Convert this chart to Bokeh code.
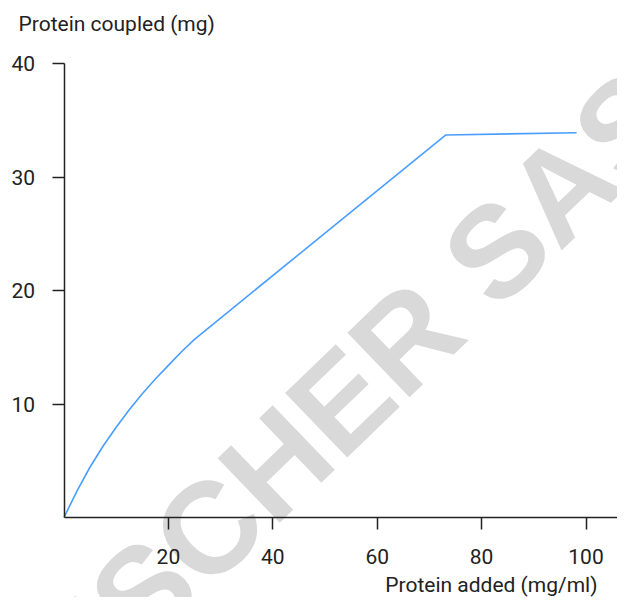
import math
from bokeh.plotting import figure
from bokeh.models import Range1d, Label, FixedTicker, LinearAxis
from bokeh.embed import file_html
from bokeh.resources import INLINE

# Data
protein_added = [0, 2.5, 5, 7.5, 10, 12.5, 15, 17.5, 20, 22.5, 25, 73.1, 98.2]
protein_coupled = [0, 2.35, 4.45, 6.3, 7.95, 9.5, 10.9, 12.2, 13.4, 14.6, 15.7, 33.7, 33.9]
x_ticks = [20, 40, 60, 80, 100]
y_ticks = [10, 20, 30, 40]

FONT = "Roboto"
TXT = "#222222"
W, H = 617, 597

# pixel scale of the reference (px per unit) and origin position
X0, XS = 63.5, 5.22
Y0, YS = 517.0, 11.35
x_start, x_end = -X0 / XS, (W - X0) / XS
y_start, y_end = -(H - Y0) / YS, Y0 / YS

p = figure(width=W, height=H, output_backend="svg", toolbar_location=None,
           x_range=Range1d(x_start, x_end), y_range=Range1d(y_start, y_end),
           x_axis_location=None, y_axis_location=None,
           min_border_left=0, min_border_right=0, min_border_top=0, min_border_bottom=0)
p.outline_line_color = None
p.xgrid.visible = False
p.ygrid.visible = False
p.background_fill_color = "white"
p.border_fill_color = "white"

# watermark
wm = Label(x=343, y=H - 398, x_units="screen", y_units="screen", text="FISCHER SAS",
           angle=math.radians(44), text_align="center", text_baseline="middle",
           text_font="Liberation Sans", text_font_style="bold", text_font_size="130px",
           text_color="#d9d9d9", level="underlay")
p.add_layout(wm)

p.line(protein_added, protein_coupled, line_color="#4a9eff", line_width=1.6)

xaxis = LinearAxis(fixed_location=0, bounds=(0, x_end), ticker=FixedTicker(ticks=x_ticks))
yaxis = LinearAxis(fixed_location=0, bounds=(0, 40), ticker=FixedTicker(ticks=y_ticks))
for ax in (xaxis, yaxis):
    ax.axis_line_color = TXT
    ax.axis_line_width = 1.5
    ax.major_tick_line_color = TXT
    ax.major_tick_line_width = 1.5
    ax.major_tick_out = 12
    ax.major_tick_in = 0
    ax.minor_tick_line_color = None
    ax.major_label_text_font = FONT
    ax.major_label_text_font_size = "21px"
    ax.major_label_text_color = TXT
xaxis.major_label_standoff = 19
yaxis.major_label_standoff = 17
p.add_layout(xaxis, "below")
p.add_layout(yaxis, "left")

p.add_layout(Label(x=18, y=H - 23.7, x_units="screen", y_units="screen", text="Protein coupled (mg)",
                   text_align="left", text_baseline="alphabetic", text_font=FONT,
                   text_font_size="21px", text_color=TXT))
p.add_layout(Label(x=597, y=H - 584, x_units="screen", y_units="screen", text="Protein added (mg/ml)",
                   text_align="right", text_baseline="alphabetic", text_font=FONT,
                   text_font_size="21px", text_color=TXT))

open("out.html", "w").write(file_html(p, INLINE))
